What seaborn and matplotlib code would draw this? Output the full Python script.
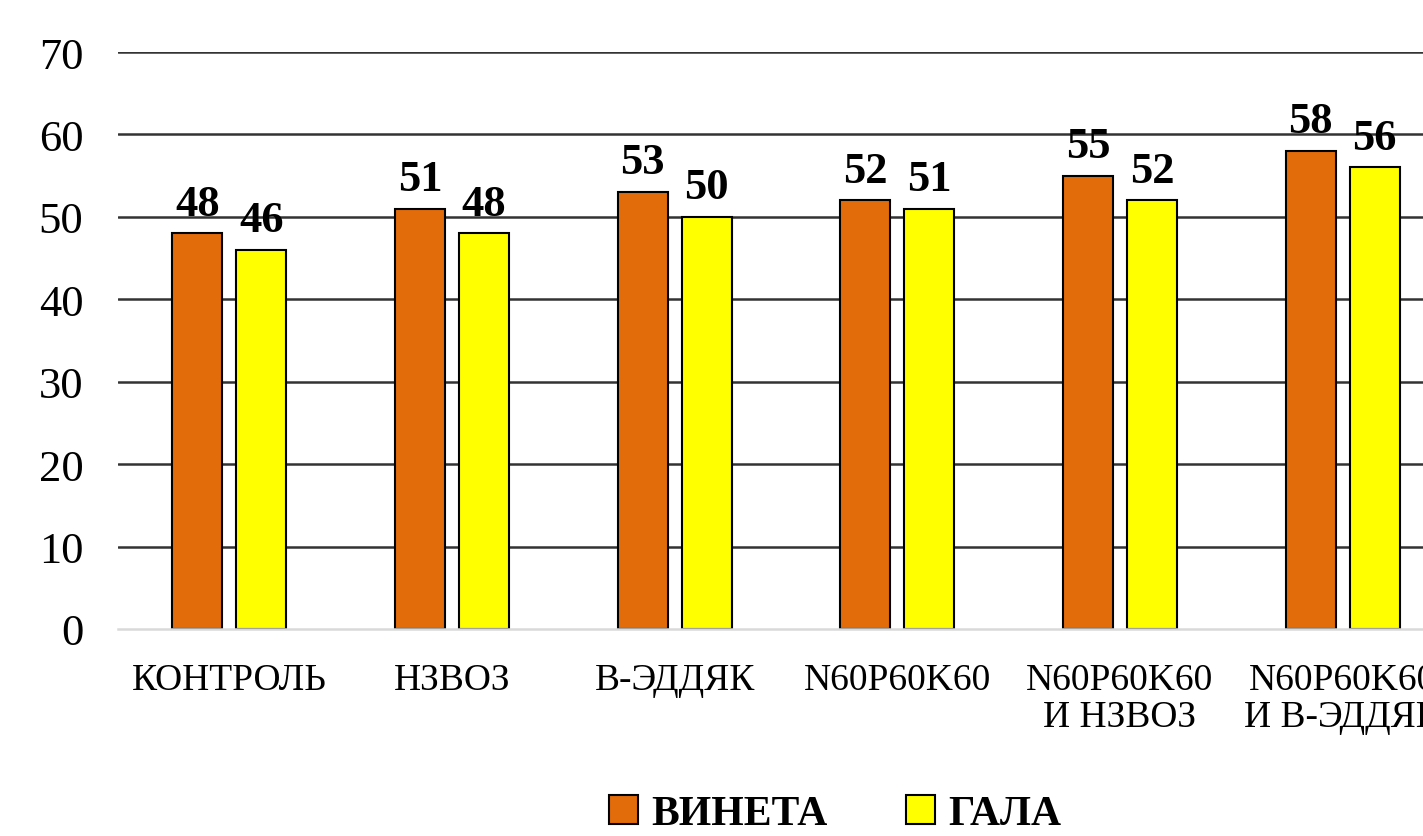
import matplotlib
matplotlib.use("Agg")
import matplotlib.pyplot as plt
import seaborn as sns
import pandas as pd

categories = ["КОНТРОЛЬ", "НЗВОЗ", "В-ЭДДЯК", "N60P60K60", "N60P60K60\nИ НЗВОЗ", "N60P60K60\nИ В-ЭДДЯК"]
series_names = ["ВИНЕТА", "ГАЛА"]
vineta = [48, 51, 53, 52, 55, 58]
gala = [46, 48, 50, 51, 52, 56]
colors = ["#E36C0A", "#FFFF00"]
yticks = [0, 10, 20, 30, 40, 50, 60, 70]

df = pd.DataFrame({
    "cat": categories * 2,
    "series": [series_names[0]] * len(categories) + [series_names[1]] * len(categories),
    "value": vineta + gala,
})

sns.set_theme(style="white")
plt.rcParams["font.family"] = ["Liberation Serif", "DejaVu Serif"]
plt.rcParams["text.color"] = "black"

W, H = 1423, 837
fig = plt.figure(figsize=(W / 100, H / 100), dpi=100)
ax = fig.add_axes([118 / W, (H - 630) / H, (1454 - 118) / W, (630 - 53) / H])

sns.barplot(data=df, x="cat", y="value", hue="series", order=categories,
            hue_order=series_names, palette=colors, saturation=1, width=0.575, gap=0.217,
            edgecolor="black", linewidth=1.5, ax=ax, legend=True, zorder=3)

for cont in ax.containers:
    ax.bar_label(cont, fmt="%d", padding=7, fontsize=32, fontweight="bold", color="black")

ax.set_xlim(-0.5, len(categories) - 0.5)
ax.set_ylim(0, 70)
ax.set_yticks(yticks)
ax.set_yticklabels([str(t) for t in yticks])
ax.set_xlabel("")
ax.set_ylabel("")
ax.tick_params(axis="y", length=0, pad=25, labelsize=32, labelcolor="black")
ax.tick_params(axis="x", length=0, pad=24, labelsize=27, labelcolor="black")
for lbl in ax.get_xticklabels():
    lbl.set_linespacing(1.1)

ax.yaxis.grid(True, color="#333333", linewidth=1.8, zorder=0)
ax.set_axisbelow(True)
ax.get_ygridlines()[0].set_visible(False)
for s in ["top", "right", "left"]:
    ax.spines[s].set_visible(False)
ax.spines["bottom"].set_color("#d9d9d9")
ax.spines["bottom"].set_linewidth(1.8)
ax.spines["bottom"].set_zorder(4)

handles, labels = ax.get_legend_handles_labels()
ax.get_legend().remove()
leg = fig.legend(handles, labels, loc="center", bbox_to_anchor=(835 / W, 22 / H), ncol=2,
                 frameon=False, prop={"weight": "bold", "size": 30},
                 handlelength=0.7, handleheight=0.7, handletextpad=0.3, columnspacing=1.9)
for t in leg.get_texts():
    t.set_color("black")

fig.savefig("out.png", dpi=100)
